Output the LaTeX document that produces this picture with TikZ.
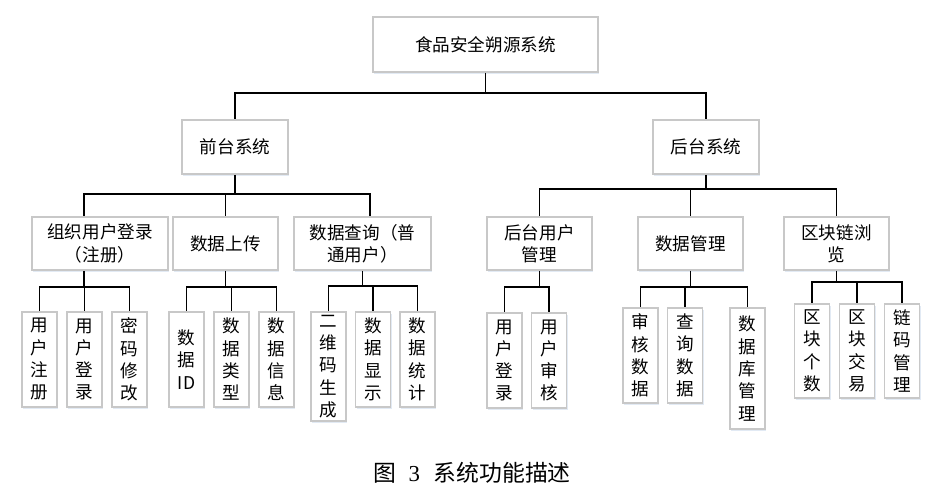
\documentclass[tikz,border=0pt]{standalone}
\usepackage{fontspec}
\setmainfont{Liberation Serif}
\newfontfamily\cjk{Noto Sans CJK SC}
\usepackage{tikz}
\usetikzlibrary{positioning,calc,shadows}
\definecolor{bxgray}{HTML}{C8C8C8}
\definecolor{bxshade}{HTML}{D5E1F0}

\begin{document}
\begin{tikzpicture}[x=0.02cm,y=-0.02cm,font=\cjk\fontsize{10}{12.7}\selectfont,
  sysbox/.style={rectangle,draw=bxgray,line width=1.1pt,fill=white,align=center,inner sep=1pt,
    drop shadow={shadow xshift=0.7pt,shadow yshift=-0.9pt,fill=bxshade,opacity=0.7}},
  midbox/.style={sysbox,minimum width=2.1cm,minimum height=1.06cm},
  leaf/.style={sysbox,anchor=north,minimum width=0.7cm,minimum height=1.9cm},
  wire/.style={line width=1.1pt,black}]
  \useasboundingbox (0,0) rectangle (941,499);
  % top and first level
  \node[sysbox,minimum width=4.5cm,minimum height=1.1cm] (root) at (485.5,44.5) {食品安全朔源系统};
  \node[sysbox,minimum width=2.12cm,minimum height=1.08cm] (front) at (235,147) {前台系统};
  \node[sysbox,minimum width=2.12cm,minimum height=1.08cm] (back) at (706,147) {后台系统};
  % second level
  \node[midbox,minimum width=2.72cm] (org) at (100,243.5) {组织用户登录\\（注册）};
  \node[midbox] (upl) at (225.5,243.5) {数据上传};
  \node[midbox,minimum width=2.74cm] (qry) at (362.5,243.5) {数据查询（普\\通用户）};
  \node[midbox] (bkusr) at (539.5,243.5) {后台用户\\管理};
  \node[midbox] (dman) at (690.5,243.5) {数据管理};
  \node[midbox] (chain) at (836.5,243.5) {区块链浏\\览};
  % leaves
  \node[leaf] (f11) at (39.5,311) {用\\户\\注\\册};
  \node[leaf] (f12) at (84.5,311) {用\\户\\登\\录};
  \node[leaf] (f13) at (129.5,311) {密\\码\\修\\改};
  \node[leaf] (f21) at (186.5,311) {数\\据\\ID};
  \node[leaf] (f22) at (231.5,311) {数\\据\\类\\型};
  \node[leaf] (f23) at (276.5,311) {数\\据\\信\\息};
  \node[leaf,minimum height=2.18cm] (f31) at (328.5,311) {二\\维\\码\\生\\成};
  \node[leaf] (f32) at (373,311) {数\\据\\显\\示};
  \node[leaf] (f33) at (417.5,311) {数\\据\\统\\计};
  \node[leaf] (b11) at (504.5,312) {用\\户\\登\\录};
  \node[leaf] (b12) at (549,312) {用\\户\\审\\核};
  \node[leaf] (b21) at (640.5,307) {审\\核\\数\\据};
  \node[leaf] (b22) at (685,307) {查\\询\\数\\据};
  \node[leaf,minimum height=2.42cm] (b23) at (747.5,307) {数\\据\\库\\管\\理};
  \node[leaf,minimum height=1.88cm] (b31) at (812,303) {区\\块\\个\\数};
  \node[leaf,minimum height=1.88cm] (b32) at (857,303) {区\\块\\交\\易};
  \node[leaf,minimum height=1.88cm] (b33) at (902,303) {链\\码\\管\\理};
  % caption
  \node[font=\cjk\fontsize{13}{15}\selectfont] (cap) at (472,473) {图\hspace{0.55em}{\rmfamily 3}\hspace{0.6em}系统功能描述};
  % bus heights
  \coordinate (bus0) at (0,93);
  \coordinate (busF) at (0,194);
  \coordinate (busB) at (0,189);
  \coordinate (busF1) at (0,287); \coordinate (busF2) at (0,287); \coordinate (busF3) at (0,286);
  \coordinate (busB1) at (0,287); \coordinate (busB2) at (0,287); \coordinate (busB3) at (0,282);
  % wires
  \draw[wire] (root.south) -- (root.south |- bus0) -| (front.north);
  \draw[wire] (root.south |- bus0) -| (back.north);
  \draw[wire] (front.south) -- (front.south |- busF) -| ([xshift=-0.32cm]org.north);
  \draw[wire] (front.south |- busF) -| (upl.north);
  \draw[wire] (front.south |- busF) -| ([xshift=0.15cm]qry.north);
  \draw[wire] ([xshift=-0.32cm]org.south) -- ([xshift=-0.32cm]org.south |- busF1) -| (f11.north);
  \draw[wire] ([xshift=-0.32cm]org.south |- busF1) -| (f12.north); \draw[wire] ([xshift=-0.32cm]org.south |- busF1) -| (f13.north);
  \draw[wire] (upl.south) -- (upl.south |- busF2) -| (f21.north);
  \draw[wire] (upl.south |- busF2) -| (f22.north); \draw[wire] (upl.south |- busF2) -| (f23.north);
  \draw[wire] (qry.south) -- (qry.south |- busF3) -| (f31.north);
  \draw[wire] (qry.south |- busF3) -| (f32.north); \draw[wire] (qry.south |- busF3) -| (f33.north);
  \draw[wire] (back.south) -- (back.south |- busB) -| (bkusr.north);
  \draw[wire] (back.south |- busB) -| (dman.north); \draw[wire] (back.south |- busB) -| (chain.north);
  \draw[wire] (bkusr.south) -- (bkusr.south |- busB1) -| (b11.north);
  \draw[wire] (bkusr.south |- busB1) -| (b12.north);
  \draw[wire] (dman.south) -- (dman.south |- busB2) -| (b21.north);
  \draw[wire] (dman.south |- busB2) -| (b22.north); \draw[wire] (dman.south |- busB2) -| (b23.north);
  \draw[wire] (chain.south) -- (chain.south |- busB3) -| (b31.north);
  \draw[wire] (chain.south |- busB3) -| (b32.north); \draw[wire] (chain.south |- busB3) -| (b33.north);
\end{tikzpicture}
\end{document}
